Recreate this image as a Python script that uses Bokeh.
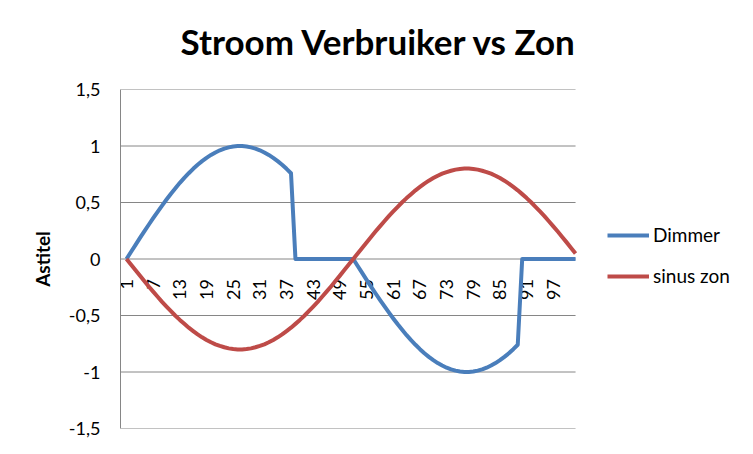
import math
from bokeh.plotting import figure
from bokeh.models import Range1d, FixedTicker, CustomJSTickFormatter, Legend, LegendItem, Title
from bokeh.core.properties import value
from bokeh.embed import file_html
from bokeh.resources import INLINE

# ---- data ----
categories = list(range(1, 103))

dimmer = [
    0.000, 0.062, 0.123, 0.184, 0.244, 0.303, 0.361, 0.418, 0.473, 0.526,
    0.578, 0.627, 0.674, 0.718, 0.759, 0.798, 0.834, 0.866, 0.895, 0.921,
    0.943, 0.962, 0.977, 0.988, 0.996, 0.999,
    0.999, 0.996, 0.988, 0.977, 0.962, 0.943, 0.921, 0.895, 0.866, 0.834,
    0.798, 0.759,
    0.0, 0.0, 0.0, 0.0, 0.0, 0.0, 0.0, 0.0, 0.0, 0.0, 0.0, 0.0, 0.0, 0.0,
    -0.062, -0.123, -0.184, -0.244, -0.303, -0.361, -0.418, -0.473, -0.526,
    -0.578, -0.627, -0.674, -0.718, -0.759, -0.798, -0.834, -0.866, -0.895,
    -0.921, -0.943, -0.962, -0.977, -0.988, -0.996, -0.999,
    -0.999, -0.996, -0.988, -0.977, -0.962, -0.943, -0.921, -0.895, -0.866,
    -0.834, -0.798, -0.759,
    0.0, 0.0, 0.0, 0.0, 0.0, 0.0, 0.0, 0.0, 0.0, 0.0, 0.0, 0.0, 0.0,
]

sinus_zon = [
    0.000, -0.049, -0.098, -0.147, -0.195, -0.243, -0.289, -0.334, -0.379,
    -0.421, -0.462, -0.502, -0.539, -0.574, -0.608, -0.638, -0.667, -0.693,
    -0.716, -0.737, -0.755, -0.769, -0.781, -0.791, -0.797, -0.800,
    -0.800, -0.797, -0.791, -0.781, -0.769, -0.755, -0.737, -0.716, -0.693,
    -0.667, -0.638, -0.608, -0.574, -0.539, -0.502, -0.462, -0.421, -0.379,
    -0.334, -0.289, -0.243, -0.195, -0.147, -0.098, -0.049,
    0.000,
    0.049, 0.098, 0.147, 0.195, 0.243, 0.289, 0.334, 0.379, 0.421, 0.462,
    0.502, 0.539, 0.574, 0.608, 0.638, 0.667, 0.693, 0.716, 0.737, 0.755,
    0.769, 0.781, 0.791, 0.797, 0.800,
    0.800, 0.797, 0.791, 0.781, 0.769, 0.755, 0.737, 0.716, 0.693, 0.667,
    0.638, 0.608, 0.574, 0.539, 0.502, 0.462, 0.421, 0.379, 0.334, 0.289,
    0.243, 0.195, 0.147, 0.098, 0.049,
]

x_tick_positions = [1, 7, 13, 19, 25, 31, 37, 43, 49, 55, 61, 67, 73, 79, 85, 91, 97]
x_tick_labels = ["1", "7", "13", "19", "25", "31", "37", "43", "49", "55",
                 "61", "67", "73", "79", "85", "91", "97"]
y_ticks = [-1.5, -1.0, -0.5, 0.0, 0.5, 1.0, 1.5]

series_names = ["Dimmer", "sinus zon"]
series_colors = ["#4A7EBB", "#BE4B48"]

FONT = "Lato"
GRID = "#868686"

X_START = -0.35      # plot area starts a little before category 1
X_END = 139.1        # extra room to the right holds the legend

p = figure(width=745, height=446, output_backend="svg", toolbar_location=None,
           x_range=Range1d(X_START, X_END), y_range=Range1d(-1.5, 1.5),
           min_border_left=120, min_border_right=5,
           min_border_top=89, min_border_bottom=18)

p.background_fill_color = "white"
p.border_fill_color = "white"
p.outline_line_color = None

# title (a small empty spacer title keeps it clear of the plot area)
p.title.text = "Stroom Verbruiker vs Zon"
p.title.text_font = FONT
p.title.text_font_size = "35px"
p.title.text_font_style = "bold"
p.title.text_color = "black"
p.title.align = "left"
p.title.vertical_align = "top"
p.title.offset = 60
p.title.standoff = 0
p.add_layout(Title(text=" ", text_font_size="10px", standoff=13), "above")

# axes
p.xaxis.visible = False
p.xgrid.visible = False
p.ygrid.visible = False

yax = p.yaxis[0]
yax.ticker = FixedTicker(ticks=y_ticks)
yax.formatter = CustomJSTickFormatter(code="return tick.toString().replace('.', ',');")
yax.axis_line_color = GRID
yax.major_tick_line_color = None
yax.minor_tick_line_color = None
yax.major_tick_out = 0
yax.major_tick_in = 0
yax.major_label_standoff = 20
yax.major_label_text_font = FONT
yax.major_label_text_font_size = "18px"
yax.major_label_text_color = "black"
yax.axis_label = "Astitel"
yax.axis_label_text_font = FONT
yax.axis_label_text_font_size = "19px"
yax.axis_label_text_font_style = "bold"
yax.axis_label_text_color = "black"
yax.axis_label_standoff = 12

# horizontal gridlines, limited to the plot area of the categories
p.segment(x0=[X_START] * len(y_ticks), x1=[categories[-1]] * len(y_ticks),
          y0=y_ticks, y1=y_ticks, line_color=GRID, line_width=1)

# category labels at the zero line
p.text(x=x_tick_positions, y=[0] * len(x_tick_positions), text=x_tick_labels,
       angle=math.pi / 2, text_align="right", text_baseline="middle",
       y_offset=20, text_font=value(FONT), text_font_size="18px",
       text_color="black")

r1 = p.line(categories, dimmer, line_color=series_colors[0], line_width=4,
            line_join="round")
r2 = p.line(categories, sinus_zon, line_color=series_colors[1], line_width=4,
            line_join="round")

legend = Legend(items=[LegendItem(label=series_names[0], renderers=[r1]),
                       LegendItem(label=series_names[1], renderers=[r2])],
                location=(487, 141))
legend.glyph_width = 42
legend.glyph_height = 20
legend.label_height = 20
legend.label_standoff = 4
legend.spacing = 18
legend.padding = 0
legend.margin = 0
legend.border_line_color = None
legend.background_fill_alpha = 0
legend.label_text_font = FONT
legend.label_text_font_size = "19px"
legend.label_text_color = "black"
p.add_layout(legend)

open("out.html", "w").write(file_html(p, INLINE))
